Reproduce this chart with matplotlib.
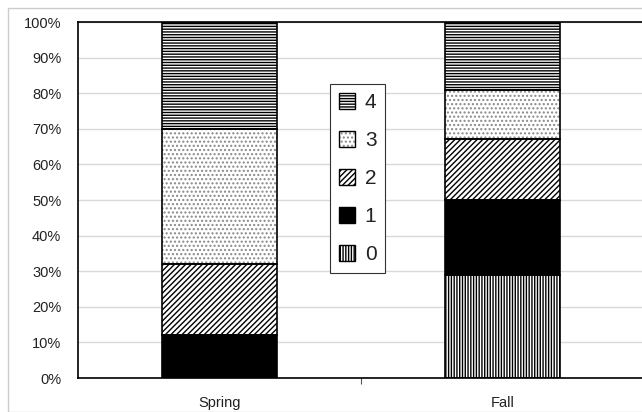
import matplotlib
matplotlib.use("Agg")
import matplotlib.pyplot as plt
from matplotlib.patches import Patch, Rectangle
from matplotlib.legend_handler import HandlerTuple
import numpy as np

categories = ["Spring", "Fall"]
levels = ["0", "1", "2", "3", "4"]
spring = [0, 12, 20, 38, 30]
fall = [29, 21, 17, 14, 19]
yticks = [0, 10, 20, 30, 40, 50, 60, 70, 80, 90, 100]

hatches = ["||||||", "", "//////", "....", "------"]
faces = ["white", "black", "white", "white", "white"]
hcolors = ["black", "black", "black", "#888888", "black"]

plt.rcParams["font.family"] = ["Liberation Sans", "DejaVu Sans"]
plt.rcParams["hatch.linewidth"] = 1.0

fig = plt.figure(figsize=(6.42, 4.12), dpi=100)
fig.patches.append(Rectangle((8 / 642, 0), 1, 1 - 8 / 412, transform=fig.transFigure,
                             fill=False, edgecolor="#cccccc", linewidth=1.0, zorder=0))
ax = fig.add_axes([78 / 642, 34 / 412, 566 / 642, 356 / 412])

x = np.arange(len(categories))
data = np.array([spring, fall]).T
bottom = np.zeros(len(categories))
handles = []
for i, lev in enumerate(levels):
    ax.bar(x, data[i], 0.403, bottom=bottom, color=faces[i], edgecolor=hcolors[i],
           hatch=hatches[i], linewidth=0, zorder=2)
    ax.bar(x, data[i], 0.403, bottom=bottom, fill=False, edgecolor="black",
           linewidth=1.2, zorder=3)
    bottom += data[i]
    h1 = Patch(facecolor=faces[i], edgecolor=hcolors[i], hatch=hatches[i], linewidth=0)
    h2 = Patch(fill=False, edgecolor="black", linewidth=1.0)
    handles.append((h1, h2))

ax.set_xlim(-0.5, 1.5)
ax.set_ylim(0, 100)
ax.set_yticks(yticks)
ax.set_yticklabels([f"{v}%" for v in yticks], fontsize=10.5, color="#222222")
ax.yaxis.grid(True, color="#d9d9d9", linewidth=1.0, zorder=0)
ax.set_axisbelow(True)
ax.tick_params(axis="y", length=0, pad=12)

ax.set_xticks([0.5])
ax.set_xticklabels([""])
ax.tick_params(axis="x", which="major", length=4, width=0.8, color="#555555")
ax.set_xticks(x, minor=True)
ax.set_xticklabels(categories, minor=True, fontsize=10.5, color="#222222")
ax.tick_params(axis="x", which="minor", length=0, pad=13)

for s in ["left", "bottom", "top"]:
    ax.spines[s].set_linewidth(1.2)
    ax.spines[s].set_color("black")
ax.spines["right"].set_visible(False)

leg = fig.legend(handles[::-1], levels[::-1], handler_map={tuple: HandlerTuple(ndivide=1, pad=0)},
                 loc="upper left", bbox_to_anchor=(330 / 642, 1 - 84 / 412),
                 bbox_transform=fig.transFigure, borderaxespad=0, fancybox=False,
                 edgecolor="#333333", framealpha=1, fontsize=15, handlelength=0.8,
                 handleheight=0.8, labelspacing=0.9, handletextpad=0.45,
                 borderpad=0.42)
leg.get_frame().set_linewidth(0.8)
for t in leg.get_texts():
    t.set_color("#222222")

fig.savefig("out.png", dpi=100)
